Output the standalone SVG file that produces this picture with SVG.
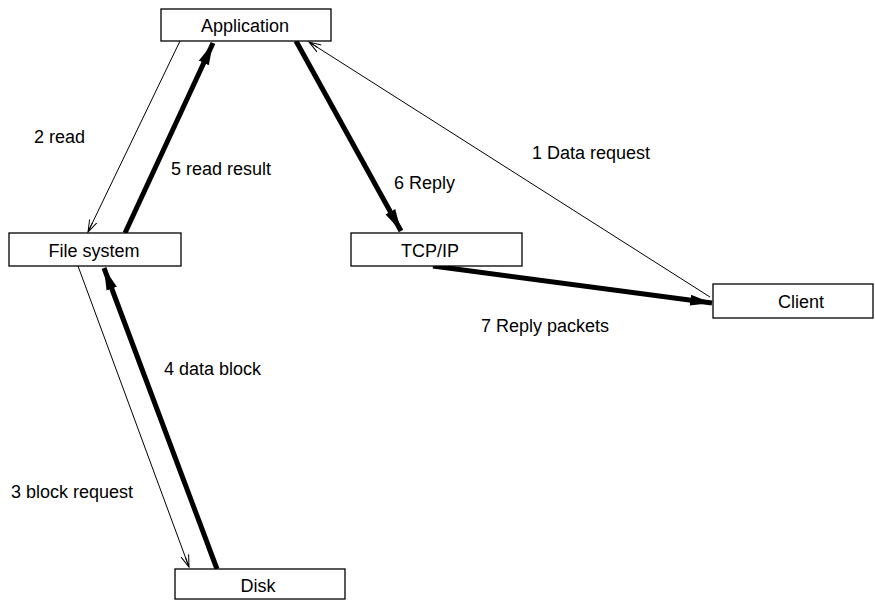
<svg xmlns="http://www.w3.org/2000/svg" width="875" height="600" viewBox="0 0 875 600">
<style>
.box{fill:#fff;stroke:#000;stroke-width:1.3}
.t{font-family:"Liberation Sans",Arial,sans-serif;font-size:18px;fill:#000}
.c{text-anchor:middle}
.thin{stroke:#000;stroke-width:1;fill:none}
.thick{stroke:#000;stroke-width:5;fill:none}
</style>
<defs>
<marker id="ah" markerUnits="userSpaceOnUse" markerWidth="14" markerHeight="10" refX="12" refY="5" orient="auto">
<path d="M0,1 L12,5 L0,9 M2,5 L12,5" fill="none" stroke="#000" stroke-width="1"/>
</marker>
<marker id="ahb" markerUnits="userSpaceOnUse" markerWidth="24" markerHeight="14" refX="22" refY="7" orient="auto">
<path d="M0,1.5 L22,7 L0,12.5 Z" fill="#000"/>
</marker>
</defs>
<rect width="875" height="600" fill="#fff"/>
<g id="connectors">
<line class="thin" x1="710" y1="297" x2="309" y2="42" marker-end="url(#ah)"/>
<line class="thin" x1="180" y1="41" x2="88" y2="232" marker-end="url(#ah)"/>
<line class="thick" x1="125" y1="233" x2="213" y2="43" marker-end="url(#ahb)"/>
<line class="thick" x1="296" y1="41" x2="401" y2="231" marker-end="url(#ahb)"/>
<line class="thick" x1="433" y1="266" x2="712" y2="303" marker-end="url(#ahb)"/>
<line class="thin" x1="78" y1="266" x2="189" y2="567" marker-end="url(#ah)"/>
<line class="thick" x1="217" y1="569" x2="104" y2="268" marker-end="url(#ahb)"/>
</g>
<g id="labels">
<text class="t" x="34" y="143">2 read</text>
<text class="t" x="171" y="175">5 read result</text>
<text class="t" x="532" y="159">1 Data request</text>
<text class="t" x="394" y="189">6 Reply</text>
<text class="t" x="481" y="332">7 Reply packets</text>
<text class="t" x="164" y="375">4 data block</text>
<text class="t" x="11" y="498">3 block request</text>
</g>
<g id="application">
<rect class="box" x="161" y="9" width="170" height="32"/>
<text class="t c" x="245" y="32">Application</text>
</g>
<g id="filesystem">
<rect class="box" x="9" y="233" width="172" height="33"/>
<text class="t c" x="94" y="257">File system</text>
</g>
<g id="tcpip">
<rect class="box" x="351" y="233" width="171" height="33"/>
<text class="t c" x="430" y="257">TCP/IP</text>
</g>
<g id="client">
<rect class="box" x="713" y="284" width="160" height="34"/>
<text class="t c" x="801" y="308">Client</text>
</g>
<g id="disk">
<rect class="box" x="175" y="569" width="170" height="30"/>
<text class="t c" x="258" y="592">Disk</text>
</g>
</svg>
